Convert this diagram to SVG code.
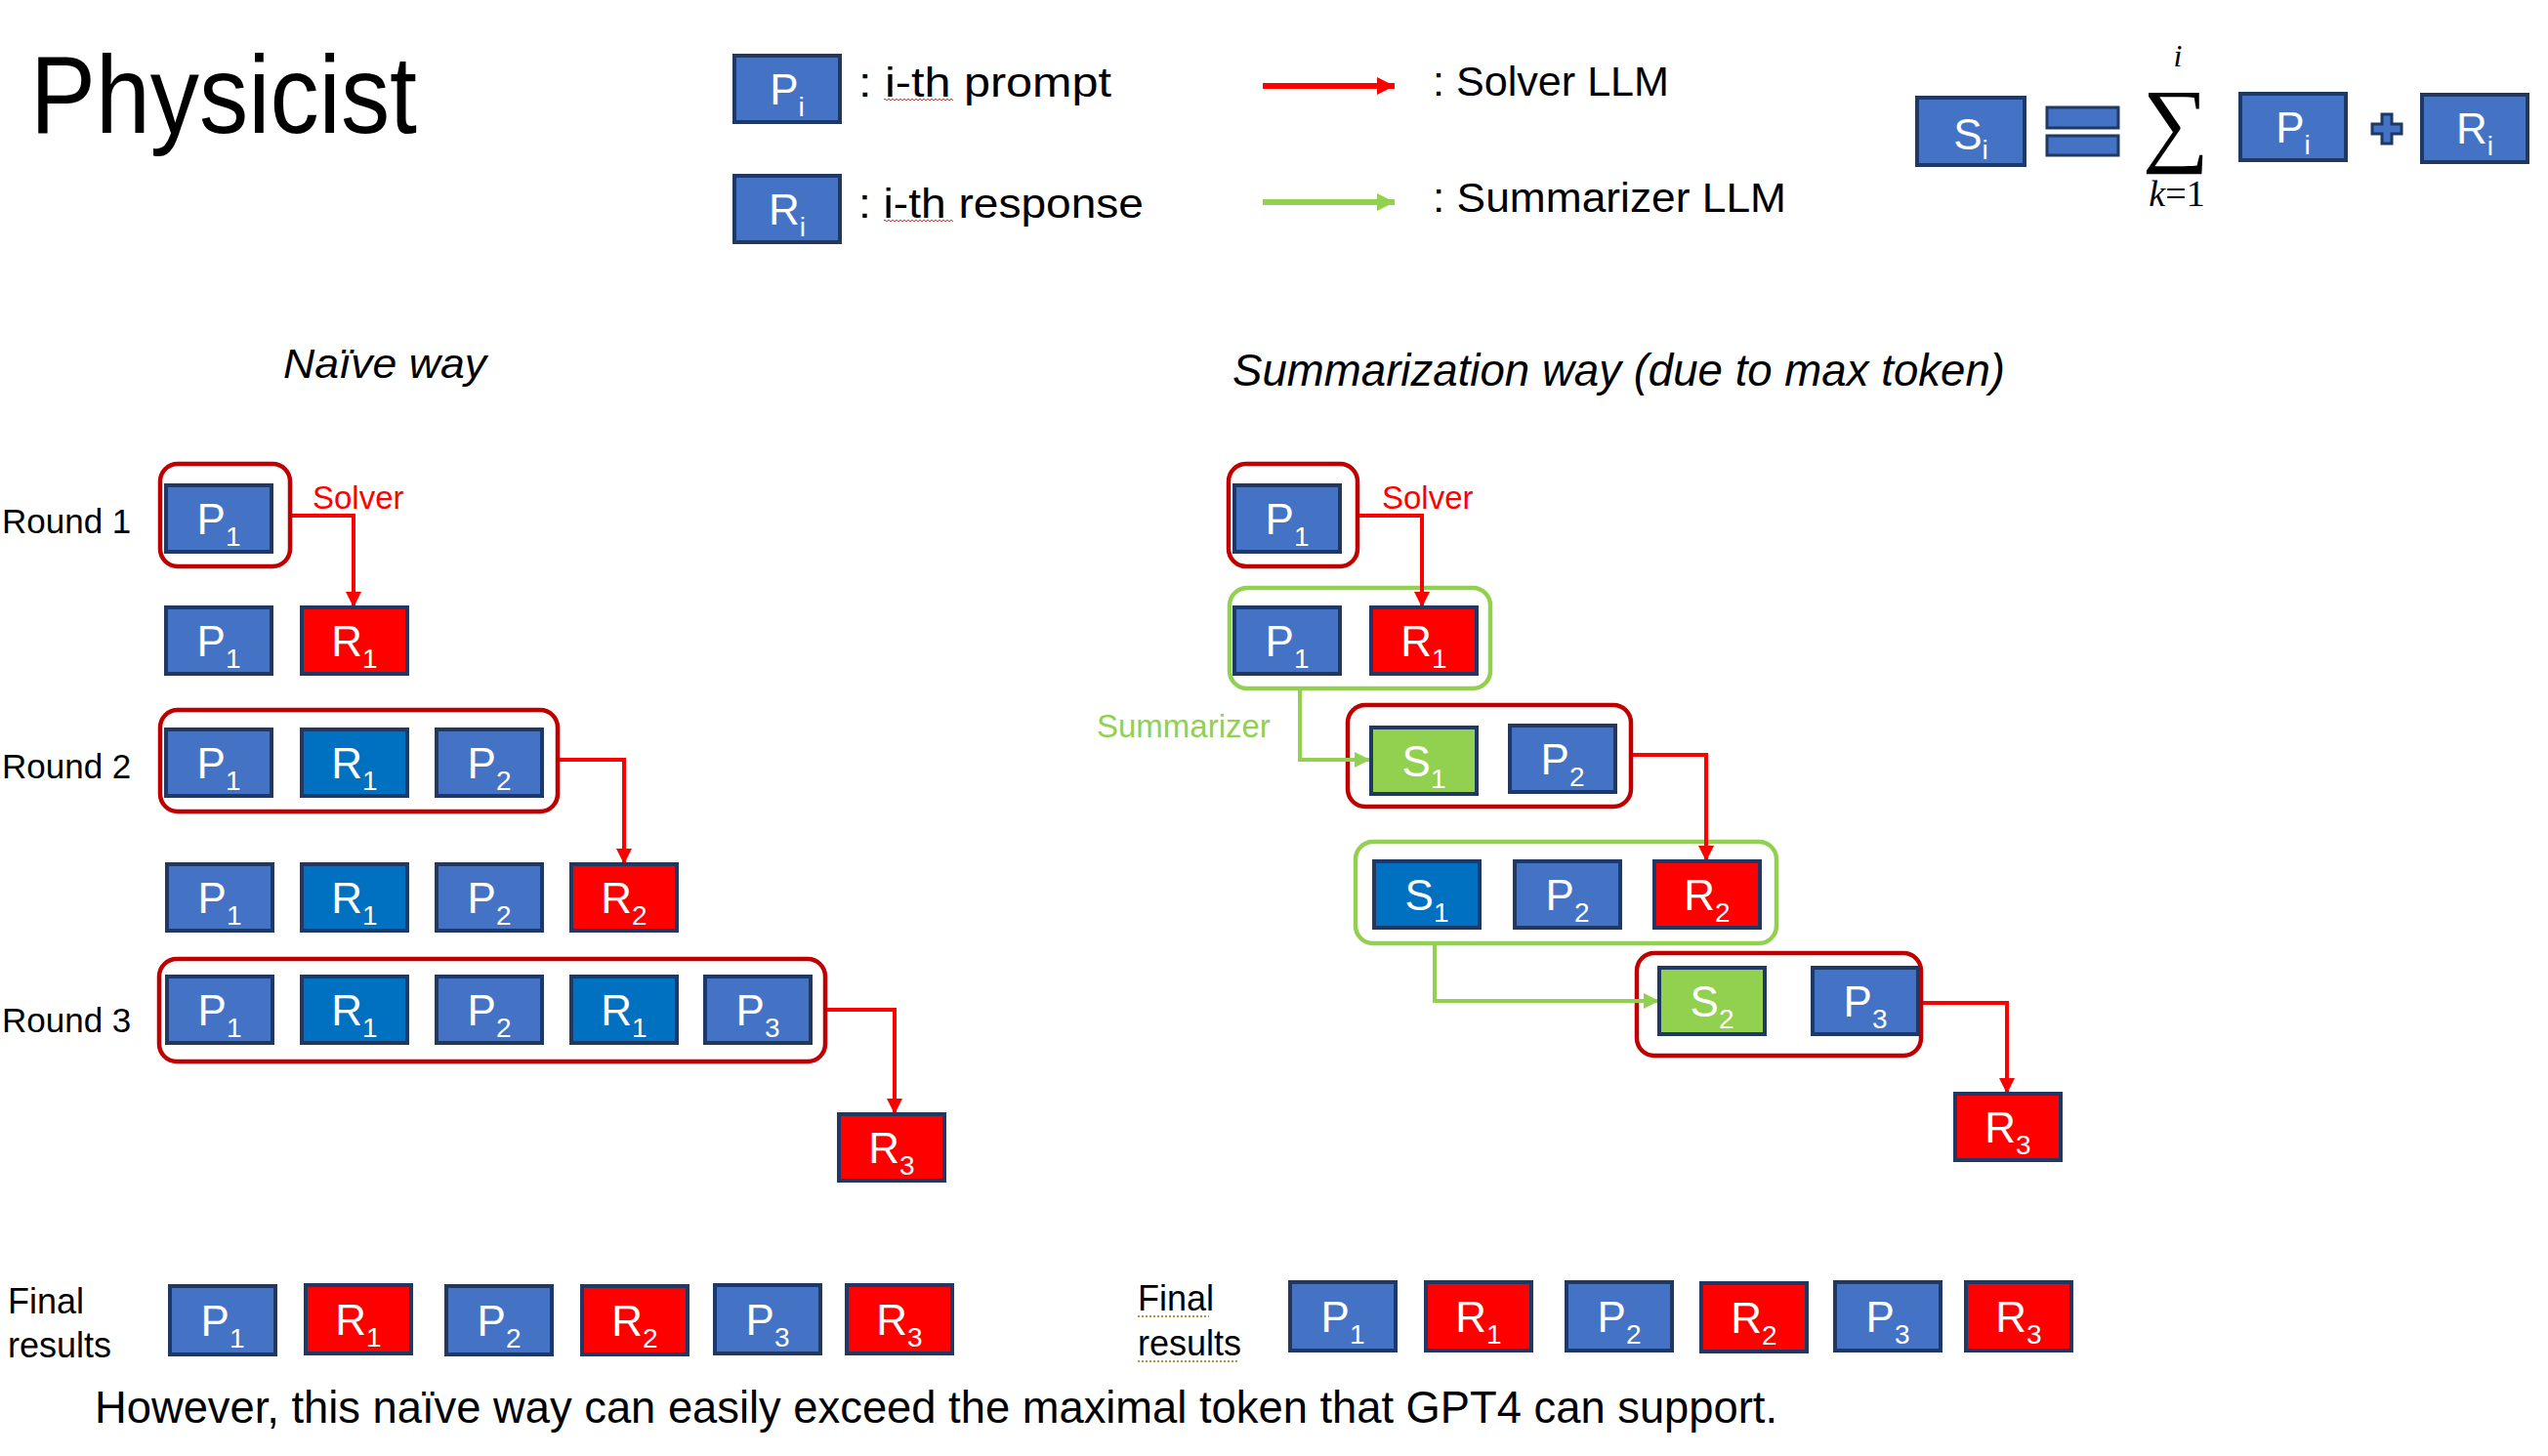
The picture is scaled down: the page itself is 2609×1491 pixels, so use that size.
<svg xmlns="http://www.w3.org/2000/svg" width="2609" height="1491" viewBox="0 0 2609 1491">
<style>
.b{stroke:#1F3864;stroke-width:4}
.lb{fill:#4472C4}.db{fill:#0070C0}.rd{fill:#FF0000}.gr{fill:#92D050}
.bt{font-family:"Liberation Sans",Arial,sans-serif;font-size:44px;fill:#FFFFFF;text-anchor:middle}
.sub{font-size:28px}
.cr{fill:none;stroke:#C00000;stroke-width:4.5}
.cg{fill:none;stroke:#92D050;stroke-width:4.5}
.ar{fill:none;stroke:#FF0000;stroke-width:4;marker-end:url(#ah)}
.ag{fill:none;stroke:#92D050;stroke-width:4;marker-end:url(#ahg)}
.t{font-family:"Liberation Sans",Arial,sans-serif;fill:#000000}
.lbl{font-family:"Liberation Sans",Arial,sans-serif;font-size:33px}
.m{font-family:"Liberation Serif","DejaVu Serif",serif;fill:#000000}
</style>
<defs>
<marker id="ah" viewBox="0 0 16 16" refX="16" refY="8" markerWidth="16" markerHeight="16" markerUnits="userSpaceOnUse" orient="auto"><path d="M0,0 L16,8 L0,16 z" fill="#FF0000"/></marker>
<marker id="ahg" viewBox="0 0 16 16" refX="16" refY="8" markerWidth="16" markerHeight="16" markerUnits="userSpaceOnUse" orient="auto"><path d="M0,0 L16,8 L0,16 z" fill="#92D050"/></marker>
<marker id="ahL" viewBox="0 0 18 18" refX="18" refY="9" markerWidth="18" markerHeight="18" markerUnits="userSpaceOnUse" orient="auto"><path d="M0,0 L18,9 L0,18 z" fill="#FF0000"/></marker>
<marker id="ahLg" viewBox="0 0 18 18" refX="18" refY="9" markerWidth="18" markerHeight="18" markerUnits="userSpaceOnUse" orient="auto"><path d="M0,0 L18,9 L0,18 z" fill="#92D050"/></marker>
<pattern id="zig" width="4" height="4" patternUnits="userSpaceOnUse"><path d="M0,3 L2,1 L4,3" fill="none" stroke="#E03030" stroke-width="1"/></pattern>
</defs>

<!-- Title and legend -->
<text class="t" x="31" y="136" font-size="113" textLength="396" lengthAdjust="spacingAndGlyphs">Physicist</text>

<g id="legend-prompt">
<rect class="b lb" x="752" y="57" width="108" height="68"/>
<text class="bt" x="806" y="107">P<tspan class="sub" dy="12">i</tspan></text>
<text class="t" x="879" y="99" font-size="43" textLength="259" lengthAdjust="spacingAndGlyphs">: i-th prompt</text>
<rect x="905" y="100" width="71" height="4" fill="url(#zig)"/>
</g>
<g id="legend-response">
<rect class="b lb" x="752" y="180" width="108" height="68"/>
<text class="bt" x="806" y="230">R<tspan class="sub" dy="12">i</tspan></text>
<text class="t" x="879" y="223" font-size="43" textLength="292" lengthAdjust="spacingAndGlyphs">: i-th response</text>
<rect x="905" y="225" width="71" height="4" fill="url(#zig)"/>
</g>
<g id="legend-solver">
<line x1="1293" y1="88" x2="1428" y2="88" stroke="#FF0000" stroke-width="6" marker-end="url(#ahL)"/>
<text class="t" x="1467" y="98" font-size="43" textLength="242" lengthAdjust="spacingAndGlyphs">: Solver LLM</text>
</g>
<g id="legend-summarizer">
<line x1="1293" y1="207" x2="1428" y2="207" stroke="#92D050" stroke-width="6" marker-end="url(#ahLg)"/>
<text class="t" x="1467" y="217" font-size="43" textLength="362" lengthAdjust="spacingAndGlyphs">: Summarizer LLM</text>
</g>

<!-- Formula -->
<g id="formula">
<g id="f-s"><rect class="b lb" x="1963" y="100" width="110" height="69"/><text class="bt" x="2018" y="153">S<tspan class="sub" dy="10">i</tspan></text></g>
<rect class="lb" x="2096" y="110" width="73" height="21" stroke="#1F3864" stroke-width="3"/>
<rect class="lb" x="2096" y="139" width="73" height="20" stroke="#1F3864" stroke-width="3"/>
<text class="m" x="2228" y="158" font-size="96" text-anchor="middle">∑</text>
<text class="m" x="2230" y="68" font-size="32" font-style="italic" text-anchor="middle">i</text>
<text class="m" x="2229" y="211" font-size="38" text-anchor="middle"><tspan font-style="italic">k</tspan>=1</text>
<g id="f-p"><rect class="b lb" x="2294" y="96" width="108" height="68"/><text class="bt" x="2348" y="146">P<tspan class="sub" dy="12">i</tspan></text></g>
<path class="lb" d="M2439,117 h10 v10 h10 v10 h-10 v10 h-10 v-10 h-10 v-10 h10 z" stroke="#1F3864" stroke-width="3"/>
<g id="f-r"><rect class="b lb" x="2480" y="97" width="108" height="69"/><text class="bt" x="2534" y="147">R<tspan class="sub" dy="12">i</tspan></text></g>
</g>

<!-- Headings -->
<text class="t" x="290" y="387" font-size="42" font-style="italic" textLength="208" lengthAdjust="spacingAndGlyphs">Naïve way</text>
<text class="t" x="1262" y="395" font-size="46" font-style="italic" textLength="791" lengthAdjust="spacingAndGlyphs">Summarization way (due to max token)</text>

<!-- Round labels -->
<text class="t" x="2" y="546" font-size="35">Round 1</text>
<text class="t" x="2" y="797" font-size="35">Round 2</text>
<text class="t" x="2" y="1057" font-size="35">Round 3</text>

<!-- Containers -->
<g id="containers">
<rect id="nc1" class="cr" x="164" y="475" width="133" height="105" rx="18"/>
<rect id="nc2" class="cr" x="164" y="727" width="407" height="104" rx="18"/>
<rect id="nc3" class="cr" x="163" y="982" width="682" height="105" rx="18"/>
<rect id="sc1" class="cr" x="1258" y="475" width="132" height="105" rx="18"/>
<rect id="sg1" class="cg" x="1259" y="602" width="267" height="103" rx="18"/>
<rect id="sc2" class="cr" x="1380" y="722" width="290" height="104" rx="18"/>
<rect id="sg2" class="cg" x="1388" y="862" width="431" height="104" rx="18"/>
<rect id="sc3" class="cr" x="1676" y="976" width="291" height="105" rx="18"/>
</g>

<!-- Connectors -->
<g id="connectors">
<path class="ar" d="M299,528 H362 V622"/>
<path class="ar" d="M573,778 H639 V885"/>
<path class="ar" d="M847,1034 H916 V1141"/>
<path class="ar" d="M1392,528 H1456 V622"/>
<path class="ag" d="M1331,707 V778 H1403"/>
<path class="ar" d="M1672,773 H1747 V882"/>
<path class="ag" d="M1469,968 V1025 H1699"/>
<path class="ar" d="M1969,1027 H2055 V1120"/>
<text class="lbl" x="320" y="521" fill="#FF0000">Solver</text>
<text class="lbl" x="1415" y="521" fill="#FF0000">Solver</text>
<text class="lbl" x="1123" y="755" fill="#92D050">Summarizer</text>
</g>

<!-- Naive way nodes -->
<g id="n1-p1"><rect class="b lb" x="170" y="497" width="108" height="68"/><text class="bt" x="224" y="547">P<tspan class="sub" dy="12">1</tspan></text></g>
<g id="n2-p1"><rect class="b lb" x="170" y="622" width="108" height="68"/><text class="bt" x="224" y="672">P<tspan class="sub" dy="12">1</tspan></text></g>
<g id="n2-r1"><rect class="b rd" x="309" y="622" width="108" height="68"/><text class="bt" x="363" y="672">R<tspan class="sub" dy="12">1</tspan></text></g>
<g id="n3-p1"><rect class="b lb" x="170" y="747" width="108" height="68"/><text class="bt" x="224" y="797">P<tspan class="sub" dy="12">1</tspan></text></g>
<g id="n3-r1"><rect class="b db" x="309" y="747" width="108" height="68"/><text class="bt" x="363" y="797">R<tspan class="sub" dy="12">1</tspan></text></g>
<g id="n3-p2"><rect class="b lb" x="447" y="747" width="108" height="68"/><text class="bt" x="501" y="797">P<tspan class="sub" dy="12">2</tspan></text></g>
<g id="n4-p1"><rect class="b lb" x="171" y="885" width="108" height="68"/><text class="bt" x="225" y="935">P<tspan class="sub" dy="12">1</tspan></text></g>
<g id="n4-r1"><rect class="b db" x="309" y="885" width="108" height="68"/><text class="bt" x="363" y="935">R<tspan class="sub" dy="12">1</tspan></text></g>
<g id="n4-p2"><rect class="b lb" x="447" y="885" width="108" height="68"/><text class="bt" x="501" y="935">P<tspan class="sub" dy="12">2</tspan></text></g>
<g id="n4-r2"><rect class="b rd" x="585" y="885" width="108" height="68"/><text class="bt" x="639" y="935">R<tspan class="sub" dy="12">2</tspan></text></g>
<g id="n5-p1"><rect class="b lb" x="171" y="1000" width="108" height="68"/><text class="bt" x="225" y="1050">P<tspan class="sub" dy="12">1</tspan></text></g>
<g id="n5-r1"><rect class="b db" x="309" y="1000" width="108" height="68"/><text class="bt" x="363" y="1050">R<tspan class="sub" dy="12">1</tspan></text></g>
<g id="n5-p2"><rect class="b lb" x="447" y="1000" width="108" height="68"/><text class="bt" x="501" y="1050">P<tspan class="sub" dy="12">2</tspan></text></g>
<g id="n5-r1b"><rect class="b db" x="585" y="1000" width="108" height="68"/><text class="bt" x="639" y="1050">R<tspan class="sub" dy="12">1</tspan></text></g>
<g id="n5-p3"><rect class="b lb" x="722" y="1000" width="108" height="68"/><text class="bt" x="776" y="1050">P<tspan class="sub" dy="12">3</tspan></text></g>
<g id="n6-r3"><rect class="b rd" x="859" y="1141" width="108" height="68"/><text class="bt" x="913" y="1191">R<tspan class="sub" dy="12">3</tspan></text></g>

<!-- Summarization way nodes -->
<g id="s1-p1"><rect class="b lb" x="1264" y="497" width="108" height="68"/><text class="bt" x="1318" y="547">P<tspan class="sub" dy="12">1</tspan></text></g>
<g id="s2-p1"><rect class="b lb" x="1264" y="622" width="108" height="68"/><text class="bt" x="1318" y="672">P<tspan class="sub" dy="12">1</tspan></text></g>
<g id="s2-r1"><rect class="b rd" x="1404" y="622" width="108" height="68"/><text class="bt" x="1458" y="672">R<tspan class="sub" dy="12">1</tspan></text></g>
<g id="s3-s1"><rect class="b gr" x="1404" y="745" width="108" height="68"/><text class="bt" x="1458" y="795">S<tspan class="sub" dy="12">1</tspan></text></g>
<g id="s3-p2"><rect class="b lb" x="1546" y="743" width="108" height="68"/><text class="bt" x="1600" y="793">P<tspan class="sub" dy="12">2</tspan></text></g>
<g id="s4-s1"><rect class="b db" x="1407" y="882" width="108" height="68"/><text class="bt" x="1461" y="932">S<tspan class="sub" dy="12">1</tspan></text></g>
<g id="s4-p2"><rect class="b lb" x="1551" y="882" width="108" height="68"/><text class="bt" x="1605" y="932">P<tspan class="sub" dy="12">2</tspan></text></g>
<g id="s4-r2"><rect class="b rd" x="1694" y="882" width="108" height="68"/><text class="bt" x="1748" y="932">R<tspan class="sub" dy="12">2</tspan></text></g>
<g id="s5-s2"><rect class="b gr" x="1699" y="991" width="108" height="68"/><text class="bt" x="1753" y="1041">S<tspan class="sub" dy="12">2</tspan></text></g>
<g id="s5-p3"><rect class="b lb" x="1856" y="991" width="108" height="68"/><text class="bt" x="1910" y="1041">P<tspan class="sub" dy="12">3</tspan></text></g>
<g id="s6-r3"><rect class="b rd" x="2002" y="1120" width="108" height="68"/><text class="bt" x="2056" y="1170">R<tspan class="sub" dy="12">3</tspan></text></g>

<!-- Final results -->
<text class="t" font-size="36"><tspan x="8" y="1345">Final</tspan><tspan x="8" y="1390">results</tspan></text>
<g id="fn-p1"><rect class="b lb" x="174" y="1317" width="108" height="70"/><text class="bt" x="228" y="1368">P<tspan class="sub" dy="12">1</tspan></text></g>
<g id="fn-r1"><rect class="b rd" x="313" y="1316" width="108" height="70"/><text class="bt" x="367" y="1367">R<tspan class="sub" dy="12">1</tspan></text></g>
<g id="fn-p2"><rect class="b lb" x="457" y="1317" width="108" height="70"/><text class="bt" x="511" y="1368">P<tspan class="sub" dy="12">2</tspan></text></g>
<g id="fn-r2"><rect class="b rd" x="596" y="1317" width="108" height="70"/><text class="bt" x="650" y="1368">R<tspan class="sub" dy="12">2</tspan></text></g>
<g id="fn-p3"><rect class="b lb" x="732" y="1316" width="108" height="70"/><text class="bt" x="786" y="1367">P<tspan class="sub" dy="12">3</tspan></text></g>
<g id="fn-r3"><rect class="b rd" x="867" y="1316" width="108" height="70"/><text class="bt" x="921" y="1367">R<tspan class="sub" dy="12">3</tspan></text></g>

<text class="t" font-size="36"><tspan x="1165" y="1342">Final</tspan><tspan x="1165" y="1388">results</tspan></text>
<line x1="1165" y1="1348" x2="1238" y2="1348" stroke="#C09030" stroke-width="2" stroke-dasharray="2 2"/>
<line x1="1165" y1="1394" x2="1268" y2="1394" stroke="#C09030" stroke-width="2" stroke-dasharray="2 2"/>
<g id="fs-p1"><rect class="b lb" x="1321" y="1313" width="108" height="70"/><text class="bt" x="1375" y="1364">P<tspan class="sub" dy="12">1</tspan></text></g>
<g id="fs-r1"><rect class="b rd" x="1460" y="1313" width="108" height="70"/><text class="bt" x="1514" y="1364">R<tspan class="sub" dy="12">1</tspan></text></g>
<g id="fs-p2"><rect class="b lb" x="1604" y="1313" width="108" height="70"/><text class="bt" x="1658" y="1364">P<tspan class="sub" dy="12">2</tspan></text></g>
<g id="fs-r2"><rect class="b rd" x="1742" y="1314" width="108" height="70"/><text class="bt" x="1796" y="1365">R<tspan class="sub" dy="12">2</tspan></text></g>
<g id="fs-p3"><rect class="b lb" x="1879" y="1313" width="108" height="70"/><text class="bt" x="1933" y="1364">P<tspan class="sub" dy="12">3</tspan></text></g>
<g id="fs-r3"><rect class="b rd" x="2013" y="1313" width="108" height="70"/><text class="bt" x="2067" y="1364">R<tspan class="sub" dy="12">3</tspan></text></g>

<text class="t" x="97" y="1457" font-size="46" textLength="1723" lengthAdjust="spacingAndGlyphs">However, this naïve way can easily exceed the maximal token that GPT4 can support.</text>
</svg>
